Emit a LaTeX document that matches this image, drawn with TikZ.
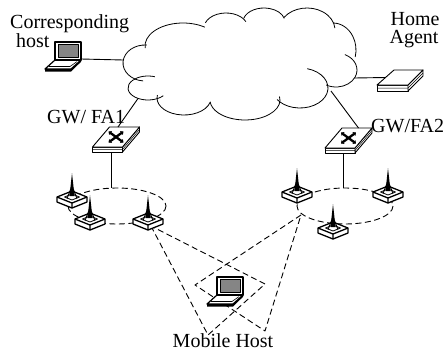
\documentclass[tikz,border=0pt]{standalone}
\usepackage{fontspec}
\setmainfont{Liberation Serif}
\usetikzlibrary{arrows.meta}
\begin{document}
\begin{tikzpicture}[x=1pt,y=-1pt,line join=round,
  link/.style={line width=0.9pt},
  radio/.style={line width=0.9pt,dash pattern=on 6pt off 3.5pt},
  cloudline/.style={line width=0.8pt},
  lbl/.style={font=\fontsize{20}{19}\selectfont,inner sep=0pt},
  laptop/.pic={
    % keyboard half
    \filldraw[fill=white,line width=1.2pt] (0,18) -- (26,18) -- (16,27) -- (-10,27) -- cycle;
    \fill (-10,27) -- (16,27) -- (26,18) -- (26,19.8) -- (16,29.6) -- (-10,29.6) -- cycle;
    \draw[line width=0.6pt] (-6.5,24.5) -- (15,24.5) -- (22,19.6);
    % screen
    \filldraw[fill=white,line width=1.3pt] (0,0) rectangle (26,18);
    \filldraw[fill=black!48,line width=0.8pt] (3,2.6) rectangle (23,15);
    \coordinate (-east) at (26,17);
  },
  router/.pic={
    % front and side edges of the slab
    \filldraw[fill=white,line width=0.9pt] (-23.5,10) -- (6.5,10) -- (6.5,15) -- (-23.5,15) -- cycle;
    \filldraw[fill=white,line width=0.9pt] (6.5,10) -- (23.5,-10) -- (23.5,-5) -- (6.5,15) -- cycle;
    \draw[line width=0.5pt] (-23.5,12.5) -- (6.5,12.5) -- (23.5,-7.5);
    % top face with the switching cross
    \filldraw[fill=white,line width=0.9pt] (-23.5,10) -- (6.5,10) -- (23.5,-10) -- (-6.5,-10) -- cycle;
    \draw[line width=2.3pt,{Triangle[length=2.6pt,width=4.6pt]}-{Triangle[length=2.6pt,width=4.6pt]}]
      (-7.5,-5.5) -- (7.5,5.5);
    \draw[line width=2.3pt,{Triangle[length=2.6pt,width=4.6pt]}-{Triangle[length=2.6pt,width=4.6pt]}]
      (-7.5,5.5) -- (7.5,-5.5);
    \coordinate (-bottom) at (-5,15);
    \coordinate (-topL) at (2,-10);
    \coordinate (-topR) at (10,-10);
  },
  slab/.pic={
    \filldraw[fill=white,line width=0.9pt] (-23.5,7.5) -- (7.5,7.5) -- (7.5,13.5) -- (-23.5,13.5) -- cycle;
    \filldraw[fill=white,line width=0.9pt] (7.5,7.5) -- (22.5,-7.5) -- (22.5,-1.5) -- (7.5,13.5) -- cycle;
    \draw[line width=0.5pt] (-23.5,10.5) -- (7.5,10.5) -- (22.5,-4.5);
    \filldraw[fill=white,line width=0.9pt] (-23.5,7.5) -- (7.5,7.5) -- (22.5,-7.5) -- (-6.5,-7.5) -- cycle;
    \coordinate (-west) at (-15,0);
  },
  tower/.pic={
    % base block
    \filldraw[fill=white,line width=1.3pt] (-15,0) -- (0,-6) -- (15,0) -- (15,5) -- (0,11) -- (-15,5) -- cycle;
    \draw[line width=1.3pt] (-15,0) -- (0,6) -- (15,0) (0,6) -- (0,11);
    \draw[line width=0.8pt] (-7.5,0) -- (0,-3) -- (7.5,0) -- (0,3) -- cycle;
    % mast
    \fill (0,-24) -- (2.5,-1) -- (-2.5,-1) -- cycle;
    \draw[line width=1pt] (0,-11) -- (-5,1.5) (0,-11) -- (5,1.5);
  }
]
\useasboundingbox (0,0) rectangle (445,351);

% backbone cloud, one arc per lobe
\begin{scope}[cloudline]
  \draw (145,63) ++(95:22 and 18) arc[start angle=95,end angle=275,x radius=22,y radius=18];
  \draw (183,46) ++(175:38 and 23) arc[start angle=175,end angle=305,x radius=38,y radius=23];
  \draw (226,28) ++(200:22 and 15) arc[start angle=200,end angle=335,x radius=22,y radius=15];
  \draw (264,22) ++(195:21 and 14) arc[start angle=195,end angle=345,x radius=21,y radius=14];
  \draw (307,30) ++(215:28 and 22) arc[start angle=215,end angle=355,x radius=28,y radius=22];
  \draw (333,50) ++(270:23 and 27) arc[start angle=270,end angle=375,x radius=23,y radius=27];
  \draw (336,70) ++(-65:21 and 17) arc[start angle=-65,end angle=118,x radius=21,y radius=17];
  \draw (300,88) ++(-75:28 and 20) arc[start angle=-75,end angle=145,x radius=28,y radius=20];
  \draw (245,100) ++(-10:35 and 20) arc[start angle=-10,end angle=175,x radius=35,y radius=20];
  \draw (184,98) ++(15:27 and 17) arc[start angle=15,end angle=190,x radius=27,y radius=17];
  \draw (148,88) ++(40:20 and 12) arc[start angle=40,end angle=290,x radius=20,y radius=12];
\end{scope}
\coordinate (cloudW) at (123.3,60);
\coordinate (cloudE) at (354.5,78);
\coordinate (cloudFA1) at (138,98.5);
\coordinate (cloudFA2) at (331,91);

% radio cells
\draw[radio] (117,206) ellipse [x radius=49,y radius=18];
\draw[radio] (345,206) ellipse [x radius=48,y radius=18];
\coordinate (cellL) at (111,188.1);
\coordinate (cellR) at (343.5,188);

% coverage of the two access points reaching the mobile host
\coordinate (apL) at (151,226);
\coordinate (apR) at (301,215);
\coordinate (tL1) at (208,335);
\coordinate (tL2) at (265,284);
\coordinate (tR1) at (195,285);
\coordinate (tR2) at (265,331);
\draw[radio] (apL) -- (tL1) -- (tL2) -- cycle;
\draw[radio] (apR) -- (tR1) -- (tR2) -- cycle;

% base stations
\pic (l1) at (72,197) {tower};
\pic (l2) at (90,219) {tower};
\pic (l3) at (148,219) {tower};
\pic (r1) at (297,192) {tower};
\pic (r2) at (388,192) {tower};
\pic (r3) at (333,228) {tower};

% hosts and gateways
\pic (ch) at (55,42) {laptop};
\pic (mh) at (217,277) {laptop};
\pic (ha) at (400.5,77.5) {slab};
\pic (fa1) at (116,137) {router};
\pic (fa2) at (348.5,138) {router};

% wired links
\draw[link] (ch-east) -- (cloudW);
\draw[link] (cloudE) -- (ha-west);
\draw[link] (cloudFA1) -- (fa1-topL);
\draw[link] (cloudFA2) -- (fa2-topR);
\draw[link] (fa1-bottom) -- (cellL);
\draw[link] (fa2-bottom) -- (cellR);

% labels
\node[lbl,anchor=base west] (lblCorr) at (10,28) {Corresponding};
\node[lbl,anchor=base west] (lblHost) at (16,47) {host};
\node[lbl,anchor=base] (lblHome) at (415,25) {Home};
\node[lbl,anchor=base] (lblAgent) at (414,43) {Agent};
\node[lbl,anchor=base west] (lblFA1) at (47,123) {GW/ FA1};
\node[lbl,anchor=base west] (lblFA2) at (371,132) {GW/FA2};
\node[lbl,anchor=base] (lblMH) at (223,347) {Mobile Host};
\end{tikzpicture}
\end{document}
